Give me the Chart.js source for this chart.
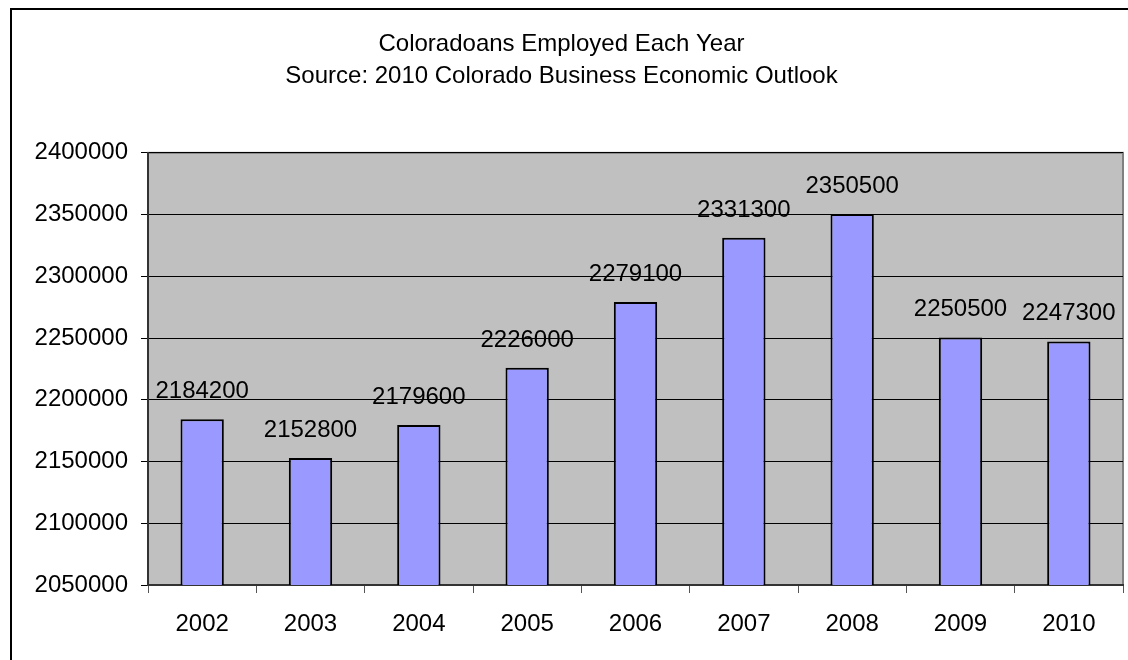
<!DOCTYPE html>
<html>
<head>
<meta charset="utf-8">
<title>Coloradoans Employed Each Year</title>
<script src="https://cdn.jsdelivr.net/npm/chart.js@4.4.1/dist/chart.umd.min.js"></script>
<style>
  html, body { margin: 0; padding: 0; background: #fff; }
  canvas { display: block; }
</style>
</head>
<body>
<canvas id="employedChart" width="1128" height="660"></canvas>
<script>
// data
var years = ["2002", "2003", "2004", "2005", "2006", "2007", "2008", "2009", "2010"];
var employed = [2184200, 2152800, 2179600, 2226000, 2279100, 2331300, 2350500, 2250500, 2247300];
var titleLines = ["Coloradoans Employed Each Year", "Source: 2010 Colorado Business Economic Outlook"];
var yMin = 2050000, yMax = 2400000, yStep = 50000;

var font = "'Liberation Sans', Arial, sans-serif";

// gray plot background + outer frame
var backdrop = {
  id: 'backdrop',
  beforeDraw: function(chart) {
    var ctx = chart.ctx, a = chart.chartArea;
    ctx.save();
    ctx.fillStyle = '#fff';
    ctx.fillRect(0, 0, chart.width, chart.height);
    ctx.strokeStyle = '#000';
    ctx.lineWidth = 2;
    ctx.strokeRect(11, 9, 1400, 900);
    ctx.fillStyle = '#C0C0C0';
    ctx.fillRect(a.left, a.top, a.right - a.left, a.bottom - a.top);
    ctx.strokeStyle = '#808080';
    ctx.lineWidth = 2;
    ctx.strokeRect(a.left, a.top, a.right - a.left, a.bottom - a.top);
    ctx.restore();
  }
};

// value labels above the bars
var valueLabels = {
  id: 'valueLabels',
  afterDatasetsDraw: function(chart) {
    var ctx = chart.ctx;
    var meta = chart.getDatasetMeta(0);
    ctx.save();
    ctx.fillStyle = '#000';
    ctx.font = '24px ' + font;
    ctx.textAlign = 'center';
    ctx.textBaseline = 'alphabetic';
    meta.data.forEach(function(bar, i) {
      ctx.fillText(String(chart.data.datasets[0].data[i]), bar.x, bar.y - 21);
    });
    ctx.restore();
  }
};

var ctx = document.getElementById('employedChart').getContext('2d');
var chart = new Chart(ctx, {
  type: 'bar',
  data: {
    labels: years,
    datasets: [{
      data: employed,
      backgroundColor: '#9999FF',
      borderColor: '#000',
      borderWidth: 2,
      borderSkipped: false,
      categoryPercentage: 1,
      barPercentage: 0.4
    }]
  },
  options: {
    responsive: false,
    animation: false,
    devicePixelRatio: 1,
    layout: { padding: { left: 0, right: 5, top: 0, bottom: 0 } },
    plugins: {
      legend: { display: false },
      tooltip: { enabled: false },
      title: {
        display: true,
        text: titleLines,
        color: '#000',
        font: { family: font, size: 24, weight: 'normal', lineHeight: 1.33 },
        padding: { top: 28, bottom: 61 }
      }
    },
    scales: {
      x: {
        grid: { drawOnChartArea: false, drawTicks: true, tickLength: 8, color: '#555' },
        border: { color: '#333', width: 2 },
        ticks: { color: '#000', font: { family: font, size: 24 }, padding: 17, maxRotation: 0 },
        afterFit: function(scale) { scale.height = 75; }
      },
      y: {
        min: yMin,
        max: yMax,
        grid: { color: '#000', lineWidth: 1, tickLength: 7 },
        border: { color: '#333', width: 2 },
        ticks: {
          stepSize: yStep,
          color: '#000',
          font: { family: font, size: 24 },
          padding: 13,
          callback: function(v) { return String(v); }
        },
        afterFit: function(scale) { scale.width = 148; }
      }
    }
  },
  plugins: [backdrop, valueLabels]
});
</script>
</body>
</html>
